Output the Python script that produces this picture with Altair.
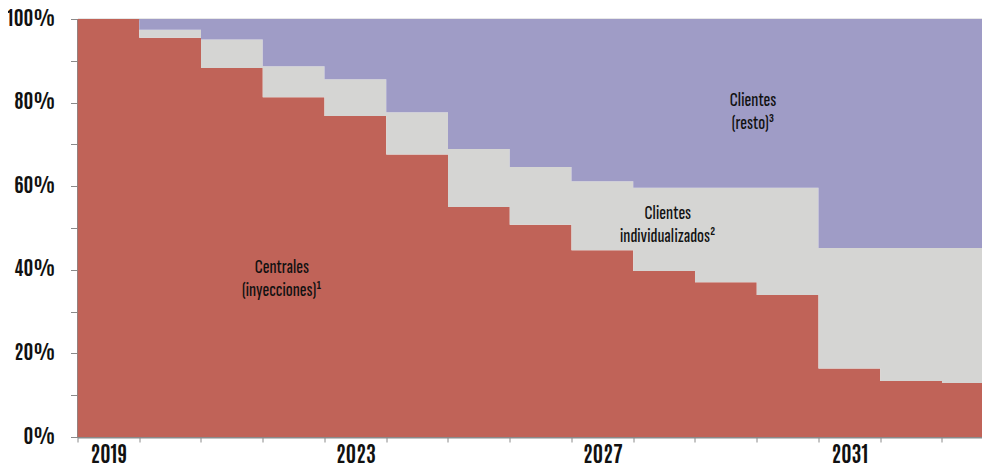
import altair as alt
import pandas as pd

years = list(range(2019, 2034))
centrales = [100.0, 95.5, 88.3, 81.3, 76.8, 67.6, 55.0, 50.8, 44.7, 39.7, 37.0, 34.0, 16.4, 13.4, 12.9]
individualizados = [0.0, 1.9, 6.8, 7.4, 8.8, 10.1, 13.9, 13.8, 16.5, 19.9, 22.6, 25.6, 28.8, 31.8, 32.3]
resto = [round(100 - c - i, 1) for c, i in zip(centrales, individualizados)]

series_names = ["Centrales", "Clientes individualizados", "Clientes (resto)"]
series_colors = ["#c06358", "#d5d5d3", "#9f9cc6"]

label_text = ["Centrales\n(inyecciones)¹", "Clientes\nindividualizados²", "Clientes\n(resto)³"]
label_x = [2022.31, 2028.56, 2029.94]
label_y = [39.2, 52.2, 79.2]

AXIS_FONT = "Antonio, Oswald, 'Archivo Narrow', sans-serif"
NOTE_FONT = "'Sofia Sans Extra Condensed', 'League Gothic', 'Pathway Gothic One', Antonio, sans-serif"

rows = []
ext_years = years + [years[-1] + 1]
for k, name in enumerate(series_names):
    vals = [centrales, individualizados, resto][k]
    ext_vals = vals + [vals[-1]]
    for y, v in zip(ext_years, ext_vals):
        rows.append({"year": y, "value": v, "serie": name, "orden": k})
df = pd.DataFrame(rows)

labels_df = pd.DataFrame({"x": label_x, "y": label_y, "text": label_text})

x_scale = alt.Scale(domain=[2019, 2033.648], nice=False, zero=False)
y_scale = alt.Scale(domain=[0, 100], nice=False)

area = alt.Chart(df).mark_area(interpolate="step-after", clip=True).encode(
    x=alt.X("year:Q", scale=x_scale, title=None,
            axis=alt.Axis(values=years, labelExpr="datum.value % 4 == 3 ? datum.value : ''",
                          labelOffset=30.9, labelFlush=False, labelOverlap=False,
                          tickSize=5, tickColor="#8a8a8a", domainColor="#8a8a8a", domainWidth=2,
                          labelFont=AXIS_FONT, labelFontSize=21, labelFontWeight="bold",
                          labelColor="#111", labelPadding=3, grid=False)),
    y=alt.Y("value:Q", stack="zero", scale=y_scale, title=None,
            axis=alt.Axis(values=list(range(0, 101, 10)),
                          labelExpr="datum.value % 20 == 0 ? datum.value + '%' : ''",
                          tickSize=7, tickColor="#8a8a8a", domainColor="#8a8a8a", domainWidth=2,
                          labelFont=AXIS_FONT, labelFontSize=20, labelFontWeight="bold",
                          labelColor="#111", labelPadding=16, labelOverlap=False,
                          grid=True,
                          gridColor={"condition": {"test": "datum.value == 100", "value": "#a0a0a0"}, "value": "transparent"},
                          gridWidth=1.5)),
    color=alt.Color("serie:N", scale=alt.Scale(domain=series_names, range=series_colors), legend=None),
    order=alt.Order("orden:Q", sort="ascending"),
)

text = alt.Chart(labels_df).mark_text(
    font=NOTE_FONT, fontSize=20, fontWeight=500, color="#111", lineBreak="\n", lineHeight=23,
    align="center", baseline="alphabetic"
).encode(
    x=alt.X("x:Q", scale=x_scale),
    y=alt.Y("y:Q", scale=y_scale),
    text="text:N",
)

chart = (area + text).properties(
    width=904.5, height=418,
    autosize=alt.AutoSizeParams(type="none"),
    padding={"left": 69.5, "top": 11, "right": 0, "bottom": 27},
).configure_view(stroke=None).configure(background="white")

chart.save("out.html", embed_options={"renderer": "svg", "actions": False})
